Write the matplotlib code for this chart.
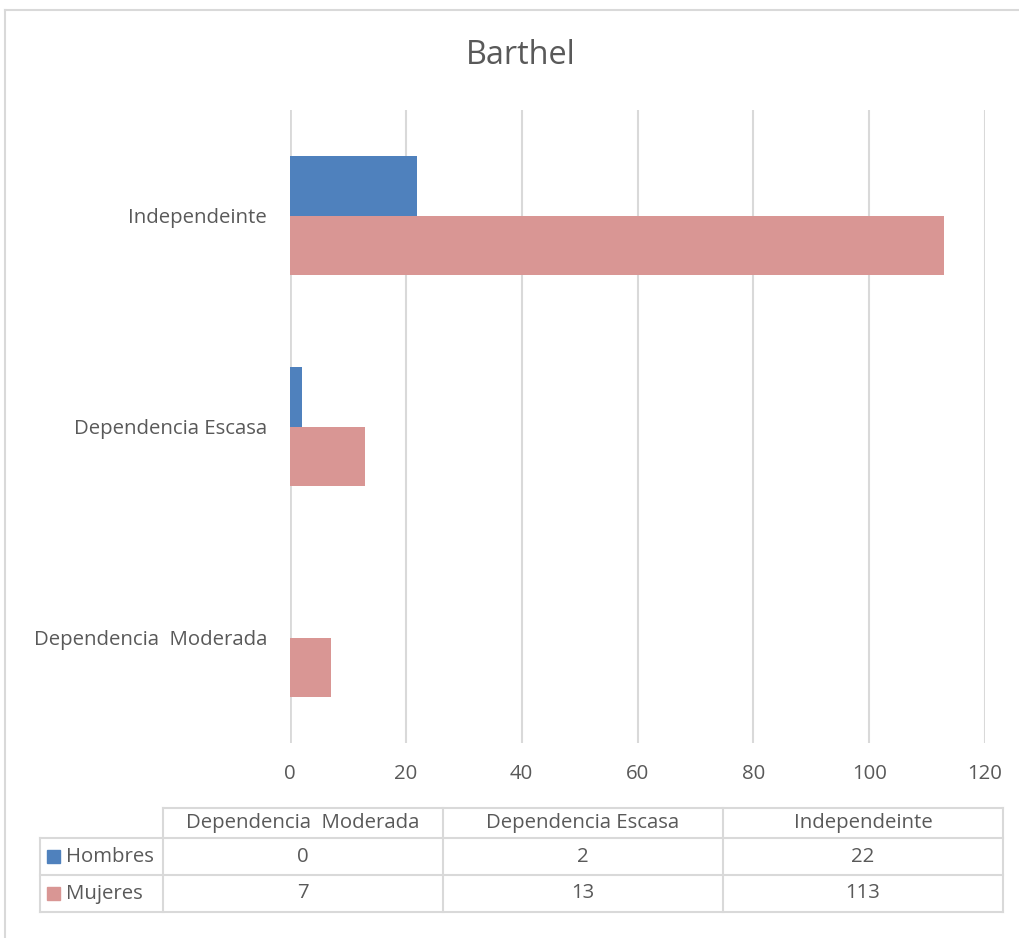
import matplotlib.pyplot as plt
from matplotlib.lines import Line2D
from matplotlib.patches import Rectangle

plt.rcParams['font.family'] = ['Open Sans', 'DejaVu Sans']

categories = ['Dependencia  Moderada', 'Dependencia Escasa', 'Independeinte']
hombres = [0, 2, 22]
mujeres = [7, 13, 113]
series = [('Hombres', hombres, '#4F81BD'), ('Mujeres', mujeres, '#D99694')]
x_ticks = [0, 20, 40, 60, 80, 100, 120]

text_color = '#595959'
grid_color = '#D9D9D9'
fs = 14.7

W, H = 1020, 938
fig = plt.figure(figsize=(W / 100, H / 100), dpi=100)

# overlay in pixel units for the frame and the data table
ov = fig.add_axes([0, 0, 1, 1], zorder=0)
ov.set_xlim(0, W)
ov.set_ylim(H, 0)
ov.axis('off')

# chart frame
ov.add_line(Line2D([5, 5], [10, H], color=grid_color, lw=1.5))
ov.add_line(Line2D([5, W], [10, 10], color=grid_color, lw=1.5))

ax = fig.add_axes([290 / W, 1 - 743 / H, 695 / W, 633 / H], zorder=1)
ax.patch.set_alpha(0)

h = 0.284
ypos = list(range(len(categories)))
ax.barh([y + h / 2 for y in ypos], hombres, height=h, color=series[0][2], zorder=3)
ax.barh([y - h / 2 for y in ypos], mujeres, height=h, color=series[1][2], zorder=3)

ax.set_xlim(0, 120)
ax.set_ylim(-0.5, len(categories) - 0.5)
ax.set_xticks(x_ticks)
ax.set_yticks(ypos)
ax.set_yticklabels(categories)
ax.tick_params(axis='both', length=0, colors=text_color, labelsize=fs)
ax.tick_params(axis='x', pad=15)
ax.tick_params(axis='y', pad=16.5)
ax.grid(axis='x', color=grid_color, lw=1.5, zorder=0)
for s in ax.spines.values():
    s.set_visible(False)
ax.axvline(0, color=grid_color, lw=2, zorder=1)

fig.text(521 / W, 1 - 55 / H, 'Barthel', ha='center', va='center',
         fontsize=23.4, color=text_color)

# data table under the chart
col_x = [163, 443, 723, 1003]
row_y = [808, 838, 875, 912]
label_left = 40
lc = grid_color
for x in col_x:
    ov.add_line(Line2D([x, x], [row_y[0], row_y[-1]], color=lc, lw=1.5))
ov.add_line(Line2D([label_left, label_left], [row_y[1], row_y[-1]], color=lc, lw=1.5))
ov.add_line(Line2D([col_x[0], col_x[-1]], [row_y[0], row_y[0]], color=lc, lw=1.5))
for y in row_y[1:]:
    ov.add_line(Line2D([label_left, col_x[-1]], [y, y], color=lc, lw=1.5))

for i, cat in enumerate(categories):
    cx = (col_x[i] + col_x[i + 1]) / 2
    ov.text(cx, (row_y[0] + row_y[1]) / 2, cat, ha='center', va='center',
            fontsize=fs, color=text_color)

for r, (name, vals, color) in enumerate(series):
    cy = (row_y[r + 1] + row_y[r + 2]) / 2
    ov.add_patch(Rectangle((47, cy - 6.5), 13, 13, color=color))
    ov.text(66, cy, name, ha='left', va='center', fontsize=fs, color=text_color)
    for i, v in enumerate(vals):
        cx = (col_x[i] + col_x[i + 1]) / 2
        ov.text(cx, cy, str(v), ha='center', va='center', fontsize=fs, color=text_color)

fig.savefig('out.png', dpi=100)
